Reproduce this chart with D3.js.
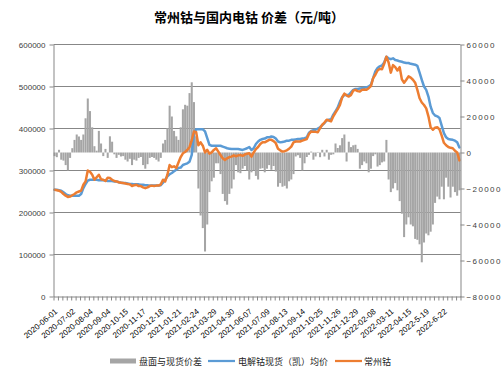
<!DOCTYPE html>
<html><head><meta charset="utf-8">
<script src="https://cdn.jsdelivr.net/npm/d3@7"></script>
<style>body{margin:0;background:#fff}svg{display:block}</style>
</head><body><svg id="c" width="503" height="378"></svg>
<script>
const title = "常州钴与国内电钴 价差（元/吨）";
const seriesNames = ["盘面与现货价差", "电解钴现货（凯）均价", "常州钴"];
const tickLabels = ["2020-06-01","2020-07-02","2020-08-04","2020-09-04","2020-10-15","2020-11-17","2020-12-18","2021-01-21","2021-02-24","2021-03-29","2021-04-30","2021-06-07","2021-07-09","2021-08-13","2021-09-14","2021-10-25","2021-11-26","2021-12-29","2022-02-08","2022-03-11","2022-04-15","2022-5-19","2022-6-22"];
const leftTicks = [0,100000,200000,300000,400000,500000,600000];
const rightTicks = [-80000,-60000,-40000,-20000,0,20000,40000,60000];
// 电解钴现货（凯）均价 (left axis)
const spotPrice = [254000,254000,253000,252000,248000,244000,241000,240000,240000,240000,
240000,240000,244000,258000,268000,276000,278000,278000,278000,278000,
277000,277000,277000,276000,275000,275000,275000,274000,274000,272000,
271000,270000,270000,269000,268000,268000,267000,267000,267000,266000,
266000,265000,265000,264000,264000,264000,264000,264000,265000,271000,
278000,286000,291000,294000,298000,302000,306000,307000,313000,315000,
317000,321000,337000,389000,398000,398000,398000,398000,393000,377000,
361000,359000,359000,359000,359000,359000,357000,355000,353000,352000,
351000,351000,351000,351000,350000,349000,351000,353000,356000,349000,
353000,363000,369000,373000,375000,376000,379000,379000,381000,380000,
376000,369000,367000,368000,369000,371000,371000,373000,373000,374000,
375000,375000,376000,377000,379000,390000,394000,396000,397000,400000,
403000,408000,413000,419000,421000,422000,433000,441000,450000,464000,
474000,480000,480000,480000,486000,492000,494000,494000,495000,496000,
497000,498000,500000,504000,520000,536000,544000,548000,550000,557000,
571000,567000,565000,567000,563000,562000,560000,559000,557000,556000,
556000,554000,553000,552000,549000,533000,516000,500000,492000,476000,
452000,437000,431000,429000,425000,407000,389000,379000,375000,374000,
373000,371000,367000,355000];
// 常州钴 (left axis)
const czPrice = [254000,253000,252000,249000,244000,240000,237000,238000,241000,244000,
248000,250000,252000,266000,274000,300000,297000,290000,278000,284000,
290000,279000,278000,275000,283000,282000,278000,275000,274000,272000,
271000,270000,269000,268000,267000,263000,265000,266000,263000,263000,
260000,258000,260000,263000,264000,263000,264000,264000,267000,278000,
274000,290000,313000,308000,310000,306000,319000,332000,341000,344000,
349000,356000,372000,393000,391000,360000,367000,359000,343000,349000,
340000,343000,349000,353000,345000,337000,329000,325000,329000,332000,
333000,336000,334000,336000,337000,335000,338000,340000,341000,333000,
343000,351000,356000,363000,367000,367000,370000,373000,373000,370000,
365000,352000,348000,345000,346000,348000,352000,357000,367000,369000,
369000,369000,371000,373000,375000,387000,393000,392000,392000,391000,
401000,409000,414000,421000,419000,417000,429000,438000,446000,456000,
474000,483000,479000,476000,480000,490000,492000,489000,488000,492000,
493000,492000,496000,501000,520000,528000,538000,542000,541000,554000,
571000,557000,533000,551000,546000,538000,546000,517000,509000,516000,
524000,521000,516000,509000,492000,472000,462000,456000,448000,429000,
403000,397000,402000,403000,398000,383000,366000,360000,356000,354000,
353000,347000,343000,324000];
// 盘面与现货价差 (right axis)
const spread = [-2000,-2600,1500,-4000,-4500,-7000,-10000,-3000,2400,7000,
10000,8900,7000,10000,19000,30000,23000,14000,3500,1000,
12000,5000,-2000,2000,-3000,9000,6000,-1000,-3000,-1300,
-2200,-2000,-4000,-5000,-3500,-7000,-4000,-4500,-3000,-2500,
-7000,-9000,-6500,-3000,-2500,-3000,-4000,-5000,-3000,5000,
7000,13500,26000,20000,12000,9000,7000,14000,24000,26500,
26000,33000,39000,28000,9000,-20000,-35000,-42000,-55000,-40000,
-22000,-16000,-14000,-6000,-6000,-12000,-23000,-27000,-29000,-23000,
-20000,-15000,-7000,-11000,-11500,-9000,-7500,-10000,-15000,-11000,
-10000,-13000,-15000,-9000,-8700,-11000,-9000,-7000,-9600,-7500,
-10600,-19000,-17000,-19000,-18500,-20000,-16000,-15000,-12000,-2200,
-1500,-3000,-10000,-6000,-2500,-1300,500,-4000,-2200,300,
-2600,1500,-2200,1500,-4000,-1300,-1000,5000,2500,4000,
8000,10000,-5000,6000,3000,4000,4300,2000,-9000,-7000,
-5000,-6000,-11000,-9000,-2000,-1000,-7800,-7000,-5500,-5000,
7000,-15000,-22000,-20000,-17000,-21000,-27000,-34000,-47000,-40000,
-36000,-40000,-41000,-48000,-48500,-51000,-61000,-50000,-45000,-46000,
-44000,-40000,-28000,-24500,-26000,-19000,-26000,-14000,-19000,-25000,
-19000,-22000,-24000,-21000];

const colors = {bar:"#A5A5A5", spot:"#5B9BD5", cz:"#ED7D31", grid:"#878787", text:"#404040"};
const N = spotPrice.length;
const labelEvery = 8, tickEvery = 2;
const L = 53.5, R = 460.5, T = 44.5, B = 296.5;

const svg = d3.select("#c");
const x = d3.scaleBand().domain(d3.range(N)).range([L, R]).paddingInner(0).paddingOuter(0);
const xe = d3.scaleLinear().domain([0, N]).range([L, R]);
const yL = d3.scaleLinear().domain([0, 600000]).range([B, T]);
const yR = d3.scaleLinear().domain([-80000, 60000]).range([B, T]);

svg.append("text").attr("x", 249).attr("y", 22).attr("text-anchor","middle")
  .style("font-family","'Noto Sans CJK SC'").style("font-weight","bold").style("font-size","13px")
  .attr("fill","#000").text(title);

// gridlines
svg.append("g").selectAll("line").data(leftTicks.filter(d=>d>0)).join("line")
  .attr("x1", L).attr("x2", R).attr("y1", d=>yL(d)).attr("y2", d=>yL(d))
  .attr("stroke", colors.grid).attr("stroke-width",1);

// bars
const bw = x.bandwidth()*0.92;
svg.append("g").selectAll("rect").data(spread).join("rect")
  .attr("x", (d,i)=>x(i) + (x.bandwidth()-bw)/2)
  .attr("width", bw)
  .attr("y", d=>Math.min(yR(d), yR(0)))
  .attr("height", d=>Math.abs(yR(d)-yR(0)))
  .attr("fill", colors.bar);

const lineL = d3.line().x((d,i)=>x(i)+x.bandwidth()/2).y(d=>yL(d)).curve(d3.curveLinear);
svg.append("path").datum(spotPrice).attr("d", lineL).attr("fill","none")
  .attr("stroke", colors.spot).attr("stroke-width",2.5).attr("stroke-linejoin","round").attr("stroke-linecap","round");
svg.append("path").datum(czPrice).attr("d", lineL).attr("fill","none")
  .attr("stroke", colors.cz).attr("stroke-width",2.5).attr("stroke-linejoin","round").attr("stroke-linecap","round");

function styleAxis(g){
  g.select(".domain").attr("stroke", colors.grid);
  g.selectAll(".tick line").attr("stroke", colors.grid);
  g.selectAll("text").attr("fill", colors.text).style("font-family","'Liberation Sans', Arial, sans-serif").style("font-size","8px");
}
// left axis
svg.append("g").attr("transform",`translate(${L},0)`)
  .call(d3.axisLeft(yL).tickValues(leftTicks).tickSize(4).tickSizeOuter(0).tickPadding(4).tickFormat(d3.format("d")))
  .call(styleAxis);
// right axis
svg.append("g").attr("transform",`translate(${R},0)`)
  .call(d3.axisRight(yR).tickValues(rightTicks).tickSize(4).tickSizeOuter(0).tickPadding(2).tickFormat(d3.format("d")))
  .call(styleAxis)
  .call(g=>g.selectAll("text").style("letter-spacing","1.4px"));
// bottom minor ticks
svg.append("g").attr("transform",`translate(0,${B})`)
  .call(d3.axisBottom(xe).tickValues(d3.range(0, N+1, tickEvery)).tickSize(4).tickSizeOuter(0).tickFormat(""))
  .call(styleAxis);
// bottom labels
const lab = svg.append("g").attr("transform",`translate(0,${B})`)
  .call(d3.axisBottom(xe).tickValues(tickLabels.map((d,i)=>i*labelEvery)).tickSize(0).tickFormat((d,i)=>tickLabels[i]))
  .call(styleAxis);
lab.select(".domain").remove();
lab.selectAll("text").attr("text-anchor","end").attr("y",0).attr("dy",0)
  .attr("transform","translate(4,16) rotate(-40)").attr("fill","#000");

// legend
const lg = svg.append("g").style("font-family","'Noto Sans CJK SC'").style("font-size","9px");
lg.append("rect").attr("x",110).attr("y",358.5).attr("width",26).attr("height",5).attr("fill",colors.bar);
lg.append("text").attr("x",139).attr("y",364.5).attr("fill","#222").text(seriesNames[0]);
lg.append("line").attr("x1",208).attr("x2",235).attr("y1",361).attr("y2",361).attr("stroke",colors.spot).attr("stroke-width",2.25);
lg.append("text").attr("x",238).attr("y",364.5).attr("fill","#222").text(seriesNames[1]);
lg.append("line").attr("x1",335).attr("x2",362).attr("y1",361).attr("y2",361).attr("stroke",colors.cz).attr("stroke-width",2.25);
lg.append("text").attr("x",364).attr("y",364.5).attr("fill","#222").text(seriesNames[2]);
</script>
</body></html>
